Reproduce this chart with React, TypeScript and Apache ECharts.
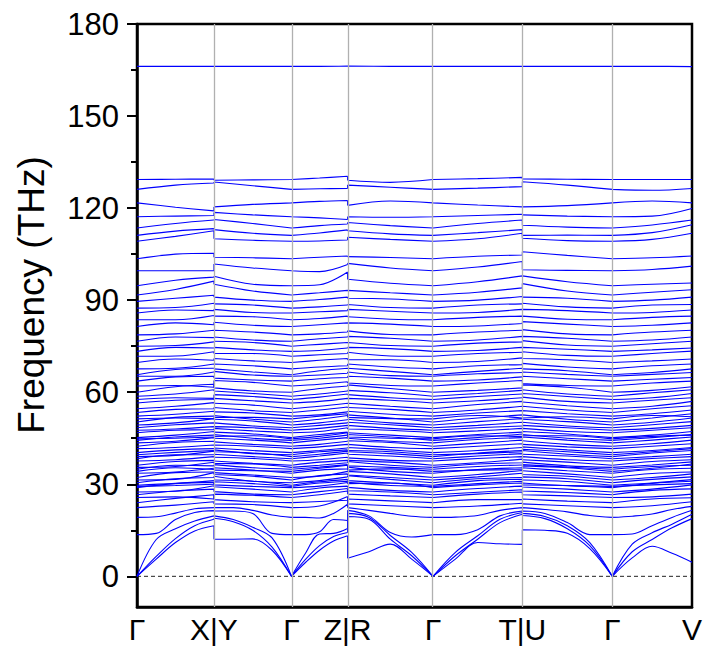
import React, { useEffect, useRef } from "react";
import * as echarts from "echarts";

// High-symmetry path
const kLabels = ["Γ", "X|Y", "Γ", "Z|R", "Γ", "T|U", "Γ", "V"];
const kPos = [0, 0.77, 1.546, 2.108, 2.963, 3.857, 4.757, 5.555];

// Y axis ticks
const yLabelValues = [0, 30, 60, 90, 120, 150, 180];
const yMinorTicks = [15, 45, 75, 105, 135, 165];
const yTitle = "Frequency (THz)";

// Path layout of each band (values in THz, excluding Γ):
// [seg Γ-X interior..., X, Y, seg Y-Γ interior..., seg Γ-Z interior..., Z, R,
//  seg R-Γ interior..., seg Γ-T interior..., T, U, seg U-Γ interior..., seg Γ-V interior..., V]

// Lowest bands (acoustic + lowest optical), 3 interior points per segment
const lowGamma = [0, 0, 0, 13.6, 19.2];
const lowPaths = [
  [5.6, 11.0, 14.8, 16.5, 12.1, 12.1, 12.2, 8.5, 4.5, 8.5, 11.5, 13.2, 5.9, 8.0, 10.5, 5.6, 5.6, 11.0, 10.6, 10.4, 15.2, 15.0, 14.0, 9.0, 6.0, 9.8, 7.5, 4.6],
  [6.5, 12.3, 16.5, 18.6, 18.9, 17.8, 15.0, 9.5, 5.5, 10.0, 13.0, 14.3, 19.5, 18.6, 12.1, 6.7, 6.7, 12.1, 17.5, 20.2, 19.8, 18.8, 15.5, 10.0, 8.0, 12.0, 15.8, 18.8],
  [12.0, 15.5, 18.0, 19.7, 19.7, 18.5, 16.0, 12.5, 7.5, 13.8, 14.0, 15.6, 20.5, 19.2, 13.3, 7.8, 7.8, 13.2, 18.6, 20.8, 20.5, 19.5, 16.5, 11.0, 10.5, 14.2, 17.0, 20.2],
  [14.0, 18.5, 20.8, 21.4, 21.3, 21.3, 20.5, 14.0, 13.6, 14.5, 18.5, 18.2, 21.5, 19.7, 14.3, 12.8, 13.6, 15.2, 19.7, 21.3, 21.3, 20.5, 17.5, 13.6, 13.8, 16.5, 19.2, 21.5],
  [19.4, 20.6, 22.0, 22.4, 22.4, 22.4, 21.5, 20.0, 19.2, 19.0, 20.5, 23.5, 22.4, 21.5, 20.5, 19.6, 19.3, 19.8, 21.5, 22.4, 22.4, 21.8, 21.0, 19.8, 19.6, 20.3, 21.8, 22.8],
];

// Middle optical bands, 1 interior point (midpoint) per segment
// [m1, X, Y, m2, m3, Z, R, m4, m5, T, U, m6, m7, V]
const midGamma = [
  22.4, 24.0, 25.7, 26.6, 27.5, 28.9, 29.3, 29.7, 30.5, 31.4, 32.2, 33.6, 34.2, 34.9, 35.5, 36.2,
  37.6, 38.3, 39.0, 39.6, 40.3, 41.6, 42.4, 43.5, 44.3, 44.8, 45.2, 46.8, 47.6, 48.4, 49.3, 50.3,
  51.3, 52.2, 53.4, 54.6, 56.5, 57.6, 58.7,
];
const midPaths = [
  [23.2, 24.3, 23.6, 23.4, 22.9, 26.0, 23.6, 23.0, 22.9, 23.8, 23.6, 23.0, 23.0, 24.3],
  [25.4, 26.6, 25.0, 24.3, 24.4, 24.8, 25.2, 24.6, 25.0, 25.0, 25.2, 24.5, 25.2, 25.6],
  [25.9, 25.2, 26.8, 26.4, 26.6, 27.8, 26.8, 26.2, 26.8, 27.5, 26.6, 26.2, 25.9, 26.8],
  [27.8, 28.4, 27.6, 26.8, 27.6, 28.6, 27.9, 27.5, 27.4, 28.2, 27.8, 27.3, 28.0, 28.5],
  [27.7, 29.5, 29.2, 28.4, 28.8, 29.4, 29.0, 28.0, 28.6, 29.4, 29.1, 28.4, 28.4, 29.8],
  [30.2, 30.6, 29.8, 29.3, 29.4, 30.6, 30.2, 30.4, 29.8, 30.4, 30.4, 29.5, 30.3, 31.0],
  [29.6, 30.0, 30.8, 30.2, 30.4, 31.0, 30.6, 29.6, 30.2, 31.0, 29.8, 29.6, 29.8, 30.2],
  [30.3, 31.2, 31.4, 31.0, 30.8, 31.6, 31.2, 30.4, 31.2, 31.6, 31.4, 30.9, 30.4, 31.5],
  [31.8, 32.2, 32.6, 31.0, 31.2, 32.4, 32.8, 31.6, 31.8, 32.2, 32.4, 31.8, 31.6, 32.4],
  [31.6, 33.8, 33.2, 32.6, 32.8, 33.4, 33.0, 32.2, 32.4, 33.6, 33.2, 32.6, 32.2, 33.4],
  [33.8, 34.0, 33.8, 33.0, 32.6, 34.2, 34.2, 33.4, 33.2, 34.5, 34.4, 33.4, 33.5, 34.0],
  [34.0, 35.2, 35.4, 34.6, 34.6, 35.0, 35.6, 34.2, 34.8, 35.4, 35.4, 34.4, 34.8, 35.2],
  [35.4, 34.8, 34.6, 34.4, 35.2, 36.2, 34.6, 35.0, 34.6, 34.8, 36.0, 35.4, 35.2, 36.6],
  [36.2, 36.0, 36.4, 35.4, 35.6, 36.4, 36.0, 35.5, 35.8, 36.3, 36.4, 35.6, 35.8, 36.2],
  [35.8, 37.2, 36.8, 36.6, 36.2, 37.0, 37.4, 36.2, 36.6, 37.0, 37.2, 36.0, 36.3, 37.3],
  [37.4, 37.8, 37.6, 36.8, 37.2, 37.8, 37.8, 37.2, 37.0, 38.2, 38.0, 37.2, 37.4, 38.0],
  [38.0, 39.0, 38.8, 38.4, 38.0, 38.8, 38.6, 37.8, 38.4, 39.0, 39.0, 38.0, 38.4, 39.0],
  [39.6, 39.6, 39.8, 39.0, 39.2, 40.2, 39.8, 39.2, 39.2, 40.0, 39.8, 39.2, 39.0, 39.8],
  [39.4, 40.8, 40.6, 40.2, 39.8, 40.8, 40.6, 40.0, 40.2, 41.0, 41.0, 39.8, 40.2, 41.0],
  [40.4, 41.0, 41.2, 40.0, 40.6, 41.2, 41.0, 40.6, 40.0, 40.6, 41.4, 40.6, 40.6, 41.6],
  [41.2, 41.6, 41.8, 41.0, 41.0, 41.8, 42.0, 41.2, 41.0, 42.0, 42.2, 41.2, 41.0, 42.0],
  [42.0, 42.8, 42.8, 42.4, 42.2, 43.0, 43.0, 42.0, 42.4, 43.2, 43.0, 42.2, 42.4, 43.2],
  [43.6, 44.0, 43.8, 43.0, 43.0, 44.0, 44.2, 43.6, 43.4, 44.4, 44.2, 43.0, 43.2, 44.4],
  [44.0, 45.2, 45.0, 44.4, 44.4, 45.2, 45.0, 44.0, 44.6, 45.2, 45.4, 44.4, 44.4, 45.4],
  [45.4, 46.0, 46.2, 45.0, 45.0, 46.0, 46.2, 45.4, 45.2, 46.4, 46.2, 45.0, 45.2, 46.2],
  [45.0, 45.4, 45.6, 45.8, 45.6, 46.8, 45.4, 45.0, 45.8, 45.6, 45.8, 45.8, 45.6, 46.0],
  [46.0, 47.2, 47.0, 46.4, 46.2, 47.0, 46.8, 46.0, 46.2, 47.0, 47.2, 46.4, 46.0, 47.2],
  [47.6, 47.8, 48.2, 47.4, 47.2, 48.4, 48.0, 47.6, 47.4, 48.2, 48.2, 47.2, 47.6, 48.4],
  [48.0, 48.8, 48.8, 48.4, 48.2, 49.2, 49.2, 48.2, 48.4, 49.0, 49.2, 48.4, 48.2, 49.2],
  [49.4, 50.0, 50.0, 49.0, 49.2, 50.0, 50.2, 49.4, 49.2, 50.2, 50.2, 49.0, 49.4, 50.4],
  [50.0, 51.4, 51.2, 50.6, 50.0, 51.0, 51.2, 50.0, 50.4, 51.4, 51.2, 50.4, 50.2, 51.6],
  [51.8, 52.2, 52.4, 51.2, 51.2, 52.4, 52.6, 51.6, 51.6, 52.6, 52.6, 51.2, 51.6, 53.0],
  [51.6, 51.4, 51.8, 51.8, 52.2, 53.0, 51.8, 51.4, 52.4, 51.6, 51.6, 52.0, 52.4, 52.0],
  [52.8, 53.8, 53.6, 53.2, 52.6, 53.6, 53.8, 52.8, 53.2, 54.0, 54.0, 53.0, 53.0, 54.2],
  [54.4, 54.6, 55.0, 54.0, 54.2, 55.2, 55.0, 54.4, 54.2, 55.4, 55.4, 54.2, 54.6, 55.6],
  [55.4, 56.6, 56.4, 55.8, 55.4, 56.4, 56.4, 55.4, 56.0, 57.0, 56.8, 55.6, 55.4, 57.0],
  [57.4, 57.6, 58.0, 57.2, 57.0, 58.0, 58.0, 57.4, 57.2, 58.2, 58.4, 57.0, 57.4, 58.2],
  [58.2, 58.0, 59.2, 58.6, 58.4, 59.4, 59.2, 58.2, 58.6, 59.4, 59.6, 58.6, 58.2, 59.6],
  [59.4, 60.8, 60.4, 59.6, 59.4, 60.4, 60.6, 59.8, 59.6, 60.6, 60.8, 59.4, 59.8, 60.8],
];

const upperGamma = [
  60.0, 62.0, 63.6, 65.2, 65.7, 67.6, 69.7, 71.7, 73.3, 75.0, 76.6, 78.7, 81.4, 83.6, 85.8, 87.4,
  89.6, 91.7,
];
const upperPaths = [
  [61.8, 62.6, 61.4, 60.4, 61.2, 62.0, 62.4, 61.2, 60.6, 61.4, 62.4, 61.6, 60.6, 61.8],
  [62.2, 61.6, 63.8, 63.2, 62.6, 63.4, 63.0, 62.2, 63.0, 63.8, 62.8, 62.2, 63.0, 63.6],
  [65.0, 65.2, 64.6, 64.0, 64.4, 64.8, 65.2, 64.6, 64.0, 65.0, 65.2, 64.4, 64.2, 64.8],
  [65.2, 66.6, 66.8, 65.6, 65.6, 66.2, 66.6, 65.4, 66.0, 66.4, 66.6, 65.8, 65.8, 66.4],
  [67.4, 67.8, 67.6, 66.6, 67.0, 67.8, 67.8, 66.8, 66.8, 67.8, 67.6, 67.0, 66.4, 67.6],
  [67.8, 69.2, 69.2, 68.6, 68.2, 68.6, 69.2, 68.2, 68.6, 69.0, 69.4, 68.2, 68.6, 69.2],
  [70.8, 70.4, 71.0, 70.2, 70.4, 71.0, 70.6, 70.6, 70.0, 71.2, 71.0, 70.6, 70.2, 70.8],
  [71.8, 73.2, 72.6, 72.6, 72.2, 72.6, 73.0, 71.8, 72.6, 73.0, 73.2, 72.0, 72.6, 73.4],
  [74.6, 74.4, 74.6, 73.8, 73.6, 74.4, 74.6, 74.2, 73.6, 74.6, 74.6, 74.0, 73.8, 74.4],
  [75.2, 76.4, 76.6, 76.2, 75.6, 76.2, 76.2, 75.2, 76.0, 76.4, 76.8, 75.4, 75.8, 76.6],
  [78.0, 77.8, 78.0, 77.0, 77.4, 78.0, 78.2, 77.6, 77.0, 78.2, 78.2, 77.6, 77.0, 78.0],
  [79.0, 80.2, 80.2, 79.6, 79.0, 79.6, 80.0, 78.8, 79.6, 80.2, 80.4, 79.0, 79.6, 80.2],
  [82.6, 82.0, 82.8, 81.8, 82.0, 82.6, 82.6, 82.2, 81.6, 82.4, 83.0, 82.2, 81.8, 82.6],
  [83.6, 85.0, 84.8, 84.6, 84.0, 84.8, 84.6, 83.8, 84.4, 84.8, 84.8, 83.8, 84.4, 84.8],
  [86.8, 86.6, 87.0, 86.0, 86.2, 86.6, 87.0, 86.4, 86.0, 87.0, 87.0, 86.6, 86.0, 86.8],
  [87.6, 89.0, 88.8, 88.4, 87.8, 88.4, 88.6, 87.6, 88.4, 88.8, 89.0, 87.8, 88.4, 88.6],
  [90.6, 91.6, 91.0, 90.0, 90.2, 91.0, 90.6, 90.4, 90.0, 91.2, 91.0, 90.6, 90.0, 91.0],
  [93.5, 96.2, 95.2, 93.0, 92.4, 93.2, 93.2, 92.4, 92.6, 94.0, 95.4, 93.0, 92.6, 93.4],
];

const topGamma = [94.7, 99.6, 103.5, 109.2, 111.1, 113.5, 117.2, 121.7, 126.1, 129.3, 166.2];
const topPaths = [
  [96.5, 97.5, 97.8, 95.2, 95.0, 99.2, 96.8, 95.5, 96.0, 97.9, 97.9, 96.0, 95.2, 95.6],
  [99.6, 99.6, 101.8, 100.5, 99.3, 101.6, 102.0, 100.5, 100.8, 102.6, 99.9, 99.7, 100.0, 101.1],
  [105.0, 105.3, 104.0, 103.8, 104.0, 104.4, 104.2, 103.9, 104.3, 104.7, 105.8, 104.6, 103.8, 104.4],
  [110.8, 112.6, 110.0, 109.5, 109.3, 109.6, 110.5, 109.8, 110.0, 111.8, 110.2, 109.4, 109.8, 111.8],
  [112.5, 113.3, 113.0, 111.8, 111.9, 112.9, 112.6, 111.6, 112.0, 113.0, 111.1, 111.2, 112.0, 114.6],
  [115.0, 116.1, 116.3, 115.0, 114.3, 114.8, 115.3, 114.3, 115.0, 116.1, 114.4, 113.8, 114.5, 116.1],
  [117.4, 117.6, 118.6, 117.8, 116.8, 116.3, 117.2, 117.0, 117.6, 118.0, 117.8, 117.4, 117.4, 119.9],
  [120.3, 119.1, 120.4, 121.2, 122.2, 122.5, 120.9, 122.3, 121.0, 120.4, 120.4, 120.8, 122.3, 121.7],
  [127.5, 128.2, 128.5, 127.3, 126.3, 126.4, 127.5, 126.8, 126.5, 127.0, 128.6, 127.5, 125.8, 126.4],
  [129.4, 129.5, 129.1, 129.2, 129.8, 130.4, 129.1, 128.4, 129.6, 130.0, 129.5, 129.4, 129.3, 129.3],
  [166.2, 166.2, 166.2, 166.2, 166.2, 166.3, 166.3, 166.2, 166.2, 166.2, 166.2, 166.2, 166.2, 166.1],
];

type Pt = [number, number | string];

function buildBand(g: number, p: number[]): Pt[] {
  const n = (p.length - 7) / 7;
  let i = 0;
  const take = (k: number) => {
    const r = p.slice(i, i + k);
    i += k;
    return r;
  };
  const s1 = take(n);
  const X = take(1)[0];
  const Y = take(1)[0];
  const s2 = take(n);
  const s3 = take(n);
  const Z = take(1)[0];
  const R = take(1)[0];
  const s4 = take(n);
  const s5 = take(n);
  const T = take(1)[0];
  const U = take(1)[0];
  const s6 = take(n);
  const s7 = take(n);
  const V = take(1)[0];
  const segs: [number, number, number[]][] = [
    [kPos[0], kPos[1], [g, ...s1, X]],
    [kPos[1], kPos[2], [Y, ...s2, g]],
    [kPos[2], kPos[3], [g, ...s3, Z]],
    [kPos[3], kPos[4], [R, ...s4, g]],
    [kPos[4], kPos[5], [g, ...s5, T]],
    [kPos[5], kPos[6], [U, ...s6, g]],
    [kPos[6], kPos[7], [g, ...s7, V]],
  ];
  const jumps: [number, number, number][] = [
    [kPos[1], X, Y],
    [kPos[3], Z, R],
    [kPos[5], T, U],
  ];
  const out: Pt[] = [];
  segs.forEach(([x0, x1, vals], si) => {
    vals.forEach((v, j) => out.push([x0 + ((x1 - x0) * j) / (vals.length - 1), v]));
    out.push([x1, "-"]);
    if (si % 2 === 0 && si < 6) {
      const jp = jumps[si / 2];
      out.push([jp[0], jp[1]]);
      out.push([jp[0], jp[2]]);
      out.push([jp[0], "-"]);
    }
  });
  return out;
}

export default function App() {
  const ref = useRef<HTMLDivElement>(null);
  useEffect(() => {
    if (!ref.current) return;
    const chart = echarts.init(ref.current, null, { renderer: "svg" });
    const font = "'Liberation Sans', Arial, Helvetica, sans-serif";

    const bands: [number, number[]][] = [];
    lowGamma.forEach((g, i) => bands.push([g, lowPaths[i]]));
    midGamma.forEach((g, i) => bands.push([g, midPaths[i]]));
    upperGamma.forEach((g, i) => bands.push([g, upperPaths[i]]));
    topGamma.forEach((g, i) => bands.push([g, topPaths[i]]));

    const bandSeries = bands.map(([g, p]) => ({
      type: "line",
      data: buildBand(g, p),
      symbol: "none",
      smooth: 0.35,
      connectNulls: false,
      silent: true,
      z: 3,
      lineStyle: { color: "#0000ff", width: 1.1 },
      emphasis: { disabled: true },
    }));

    const refSeries = {
      type: "line",
      data: [
        [kPos[0], 0],
        [kPos[kPos.length - 1], 0],
      ],
      symbol: "none",
      silent: true,
      z: 2,
      lineStyle: { color: "#222222", width: 1, type: [4, 3] },
      markLine: {
        silent: true,
        symbol: ["none", "none"],
        label: { show: false },
        lineStyle: { color: "#b0b0b0", width: 1.3, type: "solid" },
        data: kPos.slice(1, -1).map((x) => ({ xAxis: x })),
      },
    };

    chart.setOption({
      animation: false,
      grid: {
        left: 137,
        right: 15,
        top: 24,
        bottom: 43,
        show: true,
        borderColor: "#000",
        borderWidth: 2.5,
        backgroundColor: "transparent",
      },
      graphic: [
        {
          type: "text",
          x: 31,
          y: 295,
          rotation: Math.PI / 2,
          style: {
            text: yTitle,
            fontFamily: font,
            fontSize: 37,
            fill: "#000",
            align: "center",
            verticalAlign: "middle",
          },
        },
      ],
      xAxis: {
        type: "value",
        min: kPos[0],
        max: kPos[kPos.length - 1],
        axisLine: { show: true, onZero: false, lineStyle: { color: "#000", width: 2.5 } },
        axisTick: { show: false },
        splitLine: { show: false },
        axisLabel: {
          customValues: kPos,
          formatter: (v: number) => {
            const idx = kPos.findIndex((k) => Math.abs(k - v) < 1e-6);
            return idx >= 0 ? kLabels[idx] : "";
          },
          fontFamily: font,
          fontSize: 30,
          color: "#000",
          margin: 7,
        },
      },
      yAxis: [
        {
          type: "value",
          min: -10,
          max: 180,
          axisLine: { show: true, onZero: false, lineStyle: { color: "#000", width: 2.5 } },
          axisTick: {
            show: true,
            inside: false,
            length: 10,
            customValues: yLabelValues,
            lineStyle: { color: "#000", width: 2 },
          },
          axisLabel: {
            customValues: yLabelValues,
            fontFamily: font,
            fontSize: 31,
            color: "#000",
            margin: 18,
          },
          splitLine: { show: false },
        },
        {
          type: "value",
          min: -10,
          max: 180,
          position: "left",
          axisLine: { show: false, onZero: false },
          axisTick: {
            show: true,
            inside: false,
            length: 6,
            customValues: yMinorTicks,
            lineStyle: { color: "#000", width: 2 },
          },
          axisLabel: { show: false },
          splitLine: { show: false },
        },
      ],
      series: [refSeries, ...bandSeries],
    });
    return () => chart.dispose();
  }, []);
  return (
    <div
      ref={ref}
      style={{ position: "fixed", left: 0, top: 0, width: 707, height: 650, background: "#fff" }}
    />
  );
}
